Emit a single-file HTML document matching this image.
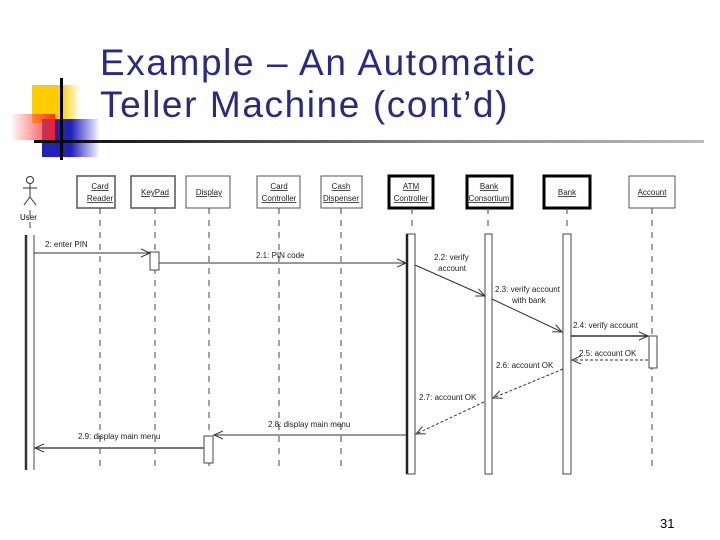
<!DOCTYPE html>
<html><head><meta charset="utf-8"><style>
body{margin:0;width:720px;height:540px;background:#fff;overflow:hidden;position:relative;font-family:"Liberation Sans",sans-serif}
.t{position:absolute;left:100px;color:#2a2a86;font-size:37px;letter-spacing:1.6px;line-height:1;white-space:nowrap}
</style></head><body>
<div style="position:absolute;left:32px;top:85px;width:48px;height:38px;background:linear-gradient(90deg,#ffcc00 60%,#fff)"></div>
<div style="position:absolute;left:42px;top:119px;width:58px;height:38px;background:linear-gradient(90deg,#2222bb 50%,#fff)"></div>
<div style="position:absolute;left:10px;top:114px;width:45px;height:26px;background:linear-gradient(90deg,rgba(255,255,255,0.3),#ff2222);opacity:.9"></div>
<div style="position:absolute;left:60px;top:78px;width:3px;height:82px;background:#000"></div>
<div style="position:absolute;left:34px;top:140px;width:670px;height:3px;background:linear-gradient(90deg,#000,#888 60%,#bbb)"></div>
<div class="t" style="top:44px">Example – An Automatic</div>
<div class="t" style="top:86px">Teller Machine (cont’d)</div>
<div style="position:absolute;left:660px;top:516px;font-size:13px">31</div>
<svg width="720" height="540" style="position:absolute;left:0;top:0" font-family="Liberation Sans, sans-serif" font-size="8">
<defs>
<marker id="a" markerWidth="10" markerHeight="10" refX="9" refY="5" orient="auto" markerUnits="userSpaceOnUse"><path d="M0,1 L9,5 L0,9" fill="none" stroke="#333" stroke-width="1"/></marker>
</defs>
<g stroke="#333" fill="none" stroke-width="1"><circle cx="30" cy="180" r="3.5"/><path d="M30,184 V197 M23,188 H37 M30,197 L24,205 M30,197 L36,205"/></g>
<text x="20" y="220" font-size="8">User</text>
<g fill="#fff" stroke="#555">
<rect x="77" y="176" width="38" height="32" stroke-width="1.5"/>
<rect x="131" y="176" width="44" height="32" stroke-width="1.5"/>
<rect x="186" y="176" width="44" height="32" stroke-width="1"/>
<rect x="257" y="176" width="43" height="32" stroke-width="1"/>
<rect x="321" y="176" width="41" height="32" stroke-width="1"/>
<rect x="389" y="176" width="44" height="32" stroke="#000" stroke-width="3"/>
<rect x="467" y="176" width="45" height="32" stroke="#000" stroke-width="3"/>
<rect x="544" y="176" width="46" height="32" stroke="#000" stroke-width="3"/>
<rect x="629" y="176" width="46" height="32" stroke-width="1"/>
</g>
<g text-anchor="middle" text-decoration="underline" fill="#222">
<text x="100" y="189">Card</text><text x="100" y="201">Reader</text>
<text x="155" y="195">KeyPad</text>
<text x="209" y="195">Display</text>
<text x="279" y="189">Card</text><text x="279" y="201">Controller</text>
<text x="341" y="189">Cash</text><text x="341" y="201">Dispenser</text>
<text x="411" y="189">ATM</text><text x="411" y="201">Controller</text>
<text x="489" y="189">Bank</text><text x="489" y="201">Consortium</text>
<text x="567" y="195">Bank</text>
<text x="652" y="195">Account</text>
</g>
<g stroke="#444" stroke-dasharray="6,6" stroke-width="1">
<path d="M30,210V230 M100,208V470 M155,208V470 M209,208V470 M279,208V470 M341,208V470 M412,208V232 M488,208V232 M567,208V232 M652,208V470"/>
</g>
<g fill="#fff" stroke="#444">
<path d="M26,235V470" stroke="#333" stroke-width="2.5"/><path d="M34,235V470"/>
<rect x="407" y="234" width="8" height="240"/><path d="M407,234V474" stroke="#222" stroke-width="2.5"/>
<rect x="485" y="234" width="7" height="240"/>
<rect x="563" y="234" width="8" height="240"/>
<rect x="649" y="336" width="8" height="32"/>
<rect x="150" y="252" width="9" height="18"/>
<rect x="204" y="436" width="9" height="27"/>
</g>
<g stroke="#333" stroke-width="1" fill="none">
<path d="M34,253H150" marker-end="url(#a)"/>
<path d="M159,263H406" marker-end="url(#a)"/>
<path d="M415,265L485,296" marker-end="url(#a)"/>
<path d="M492,299L562,332" marker-end="url(#a)"/>
<path d="M571,336H648" stroke-width="1.5" marker-end="url(#a)"/>
<path d="M648,360H572" stroke-dasharray="3,2" marker-end="url(#a)"/>
<path d="M563,369L493,398" stroke-dasharray="3,2" marker-end="url(#a)"/>
<path d="M484,402L416,434" stroke-dasharray="3,2" marker-end="url(#a)"/>
<path d="M406,435H214" stroke="#777" stroke-width="1.5" marker-end="url(#a)"/>
<path d="M204,448H35" stroke="#777" stroke-width="2" marker-end="url(#a)"/>
</g>
<g fill="#222" font-size="8">
<text x="45" y="247">2: enter PIN</text>
<text x="256" y="258">2.1: PIN code</text>
<text x="434" y="260">2.2: verify</text><text x="438" y="271">account</text>
<text x="495" y="292">2.3: verify account</text><text x="512" y="303">with bank</text>
<text x="573" y="328">2.4: verify account</text>
<text x="579" y="356">2.5: account OK</text>
<text x="496" y="368">2.6: account OK</text>
<text x="419" y="400">2.7: account OK</text>
<text x="268" y="427">2.8: display main menu</text>
<text x="78" y="439">2.9: display main menu</text>
</g>
</svg>
</body></html>
